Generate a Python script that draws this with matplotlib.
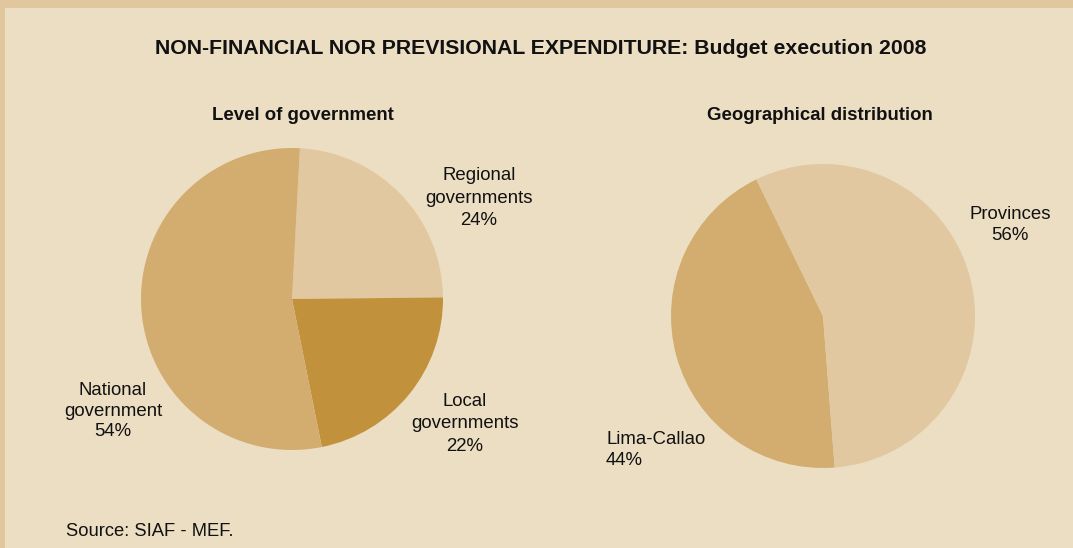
import matplotlib
matplotlib.use("Agg")
import matplotlib.pyplot as plt
from matplotlib.patches import Rectangle

W, H = 1073, 548

# Level of government
gov_labels = ["Regional\ngovernments", "Local\ngovernments", "National\ngovernment"]
gov_values = [24, 22, 54]
gov_colors = ["#e1c8a0", "#c2913c", "#d3ad70"]

# Geographical distribution
geo_labels = ["Lima-Callao", "Provinces"]
geo_values = [44, 56]
geo_colors = ["#d3ad70", "#e1c8a0"]

bg = "#ecdec3"
band = "#e0c79e"
ink = "#111111"

plt.rcParams["font.family"] = ["Liberation Sans", "DejaVu Sans"]


def fx(x):
    return x / W


def fy(y):
    return 1 - y / H


def pie_axes(fig, cx, cy, r):
    ax = fig.add_axes([fx(cx - r), fy(cy + r), 2 * r / W, 2 * r / H])
    ax.axis("off")
    return ax


def fit(ax):
    # pie() pads the limits, so reset them to the unit circle
    ax.set_xlim(-1, 1)
    ax.set_ylim(-1, 1)
    ax.set_aspect("equal")


def label(x, y, text, ha="center", spacing=1.27):
    fig.text(fx(x), fy(y), text, ha=ha, va="center", fontsize=13.4,
             color=ink, linespacing=spacing)


fig = plt.figure(figsize=(W / 100, H / 100), dpi=100, facecolor=bg)

# frame strips along top and left edges
fig.patches.append(Rectangle((0, fy(8)), 1, 8 / H, transform=fig.transFigure,
                             facecolor=band, edgecolor="none"))
fig.patches.append(Rectangle((0, 0), 5 / W, 1, transform=fig.transFigure,
                             facecolor=band, edgecolor="none"))

fig.text(fx(541), fy(48), "NON-FINANCIAL NOR PREVISIONAL EXPENDITURE: Budget execution 2008",
         ha="center", va="center", fontsize=15.3, fontweight="bold", color=ink)

ax1 = pie_axes(fig, 292, 299, 151)
ax1.pie(gov_values, colors=gov_colors, startangle=87, counterclock=False,
        radius=1, wedgeprops=dict(linewidth=0))
fit(ax1)
fig.text(fx(303), fy(116), "Level of government", ha="center", va="center",
         fontsize=13.4, fontweight="bold", color=ink)

ax2 = pie_axes(fig, 823, 316, 152)
ax2.pie(geo_values, colors=geo_colors, startangle=116, counterclock=True,
        radius=1, wedgeprops=dict(linewidth=0))
fit(ax2)
fig.text(fx(820), fy(116), "Geographical distribution", ha="center", va="center",
         fontsize=13.4, fontweight="bold", color=ink)

label(479, 198, f"{gov_labels[0]}\n{gov_values[0]}%", spacing=1.45)
label(465, 424, f"{gov_labels[1]}\n{gov_values[1]}%", spacing=1.42)
label(113, 411, f"{gov_labels[2]}\n{gov_values[2]}%")
label(606, 450, f"{geo_labels[0]}\n{geo_values[0]}%", ha="left")
label(1010, 225, f"{geo_labels[1]}\n{geo_values[1]}%")

fig.text(fx(66), fy(532), "Source: SIAF - MEF.", ha="left", va="center",
         fontsize=13.2, color=ink)

fig.savefig("out.png", dpi=100, facecolor=bg)
